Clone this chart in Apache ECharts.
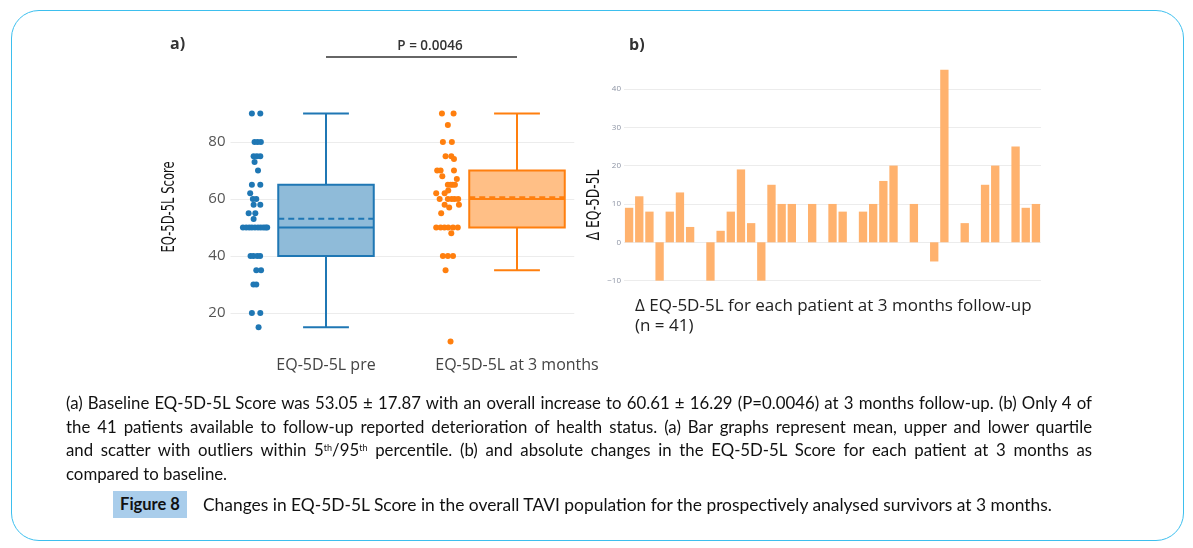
<!DOCTYPE html>
<html><head><meta charset="utf-8">
<script src="https://cdn.jsdelivr.net/npm/echarts@6/dist/echarts.min.js"></script>
<style>
html,body{margin:0;padding:0;background:#fff;}
#wrap{position:relative;width:1193px;height:548px;overflow:hidden;background:#fff;}
#frame{position:absolute;left:11px;top:10px;width:1173px;height:531px;border:1.5px solid #3dbfee;border-radius:28px;box-sizing:border-box;pointer-events:none;}
#chart{position:absolute;left:0;top:0;width:1193px;height:548px;}
#caption{position:absolute;left:66px;top:391px;width:1026px;font-family:Lato,'Open Sans',sans-serif;font-size:16.8px;line-height:23.5px;color:#111;}
#caption .j{text-align:justify;text-align-last:justify;}
#caption sup{font-size:9px;line-height:0;vertical-align:5px;}
#figbox{position:absolute;left:113px;top:491px;width:74px;height:27px;background:#a9cdeb;font-family:Lato,sans-serif;font-weight:bold;font-size:16.5px;line-height:27px;text-align:center;color:#111;}
#figtext{position:absolute;left:203px;top:491px;height:27px;line-height:27px;font-family:Lato,sans-serif;font-size:17.4px;color:#111;white-space:nowrap;}
</style></head>
<body>
<div id="wrap">
  <div id="chart"></div>
  <div id="caption">
    <div class="j">(a) Baseline EQ-5D-5L Score was 53.05 ± 17.87 with an overall increase to 60.61 ± 16.29 (P=0.0046) at 3 months follow-up. (b) Only 4 of</div>
    <div class="j">the 41 patients available to follow-up reported deterioration of health status. (a) Bar graphs represent mean, upper and lower quartile</div>
    <div class="j">and scatter with outliers within 5<sup>th</sup>/95<sup>th</sup> percentile. (b) and absolute changes in the EQ-5D-5L Score for each patient at 3 months as</div>
    <div>compared to baseline.</div>
  </div>
  <div id="figbox">Figure 8</div>
  <div id="figtext">Changes in EQ-5D-5L Score in the overall TAVI population for the prospectively analysed survivors at 3 months.</div>
  <div id="frame"></div>
</div>
<script>
// ---------- data ----------
const categories = ['EQ-5D-5L pre', 'EQ-5D-5L at 3 months'];
// [min, Q1, median, Q3, max]
const preStats = [15, 40, 50, 65, 90];
const postStats = [35, 50, 60, 70, 90];
const boxMeans = [53.05, 60.61];

const preScores = [90,90, 80,80,80, 75,75,75, 73, 70, 65,65, 62, 60,60, 58,58, 55,55, 53,
  50,50,50,50,50,50,50,50,50,50, 40,40,40,40, 35,35, 30,30, 20,20, 15];
const preJitter = [-0.028,0.016, -0.014,0.002,0.019, -0.019,-0.002,0.016, -0.014, 0.004, -0.028,0.016, -0.037, -0.023,-0.005, -0.019,0.016, -0.045,-0.010, -0.019,
  -0.075,-0.058,-0.042,-0.028,-0.012,0.004,0.018,0.032,0.044,0.052, -0.035,-0.02,0.0,0.015, -0.005,0.02, -0.02,-0.005, -0.028,0.016, 0.007];

const postScores = [90,90, 86, 80,80, 75,75, 74, 70,70,70, 68, 65,65,65, 62,62, 60,60,60, 58,58, 55,
  50,50,50,50,50,50, 48, 40,40,40, 35, 10, 60,60,65,57,67,63];
const postJitter = [-0.033,0.028, -0.002, -0.028,0.019, -0.014,0.016, 0.03, -0.058,-0.04,0.03, -0.031, -0.002,0.023,0.012, -0.063,-0.019, -0.045,-0.002,0.033, -0.019,0.056, -0.037,
  -0.063,-0.04,-0.02,0.0,0.025,0.05, 0.016, -0.028,-0.002,0.025, -0.014, 0.012, 0.018,0.052,0.035,0.005,0.045,0.0];

const leftTicks = [20, 40, 60, 80];
const patientIds = ['1','2','3','4','5','6','7','8','9','10','11','12','13','14','15','16','17','18','19','20','21',
  '22','23','24','25','26','27','28','29','30','31','32','33','34','35','36','37','38','39','40','41'];
const deltaValues = [9,12,8,-10,8,13,4,0,-10,3,8,19,5,-10,15,10,10,0,10,0,10,8,0,8,10,16,20,0,10,0,-5,45,0,5,0,15,20,0,25,9,10];
const rightTicks = [-10, 0, 10, 20, 30, 40];

// ---------- style ----------
const BOX_HALF = 0.25, CAP_HALF = 0.12, SCATTER_SHIFT = -0.36;
const BOX_COLORS = [
  {line: '#1f77b4', fill: '#8fbbd9'},
  {line: '#ff7f0e', fill: '#ffbf86'}
];
const GRID_C = '#ececec';

const chart = echarts.init(document.getElementById('chart'), null, {renderer: 'canvas'});

const boxData = [preStats, postStats].map((s, i) => [i + 1].concat(s, [boxMeans[i]]));
const preData = preScores.map((v, i) => [1 + SCATTER_SHIFT + preJitter[i], v]);
const postData = postScores.map((v, i) => [2 + SCATTER_SHIFT + postJitter[i], v]);

const option = {
  animation: false,
  grid: [
    {left: 230.5, top: 85, width: 343.8, height: 285},
    {left: 624, top: 50.55, width: 417, height: 230.1}
  ],
  xAxis: [
    {type: 'value', gridIndex: 0, min: 0.5, max: 2.3, interval: 0.5, offset: -21,
     axisLine: {show: false}, axisTick: {show: false}, splitLine: {show: false},
     axisLabel: {showMaxLabel: false, fontSize: 16, color: '#444', fontFamily: 'Open Sans',
       formatter: v => (Math.abs(v - 1) < 1e-6 ? categories[0] : (Math.abs(v - 2) < 1e-6 ? categories[1] : ''))}},
    {type: 'category', gridIndex: 1, data: patientIds, show: false}
  ],
  yAxis: [
    {type: 'value', gridIndex: 0, min: 0, max: 100, interval: 20,
     axisLine: {show: false}, axisTick: {show: false},
     axisLabel: {fontSize: 15, color: '#555', fontFamily: 'Open Sans', margin: 5,
       formatter: v => (leftTicks.indexOf(v) >= 0 ? String(v) : '')},
     splitLine: {lineStyle: {color: ['transparent', GRID_C, GRID_C, GRID_C, GRID_C, 'transparent'], width: 1}}},
    {type: 'value', gridIndex: 1, min: -10, max: 50, interval: 10,
     axisLine: {show: false}, axisTick: {show: false},
     axisLabel: {fontSize: 8, color: '#8c93a3', fontFamily: 'Open Sans', margin: 3,
       formatter: v => (rightTicks.indexOf(v) >= 0 ? (v < 0 ? '−' + Math.abs(v) : String(v)) : '')},
     splitLine: {lineStyle: {color: [GRID_C, GRID_C, GRID_C, GRID_C, GRID_C, GRID_C, 'transparent'], width: 1}}}
  ],
  series: [
    {type: 'custom', xAxisIndex: 0, yAxisIndex: 0, data: boxData, encode: {x: 0, y: [1, 2, 3, 4, 5, 6]},
     z: 2,
     renderItem: function (params, api) {
       const x = api.value(0);
       const c = BOX_COLORS[params.dataIndex];
       const pt = (dx, v) => api.coord([x + dx, v]);
       const mn = api.value(1), q1 = api.value(2), md = api.value(3), q3 = api.value(4), mx = api.value(5), mean = api.value(6);
       const ln = (a, b, dash) => ({type: 'line', shape: {x1: a[0], y1: a[1], x2: b[0], y2: b[1]},
         style: {stroke: c.line, lineWidth: 2, lineDash: dash || null}});
       const tl = pt(-BOX_HALF, q3), br = pt(BOX_HALF, q1);
       return {type: 'group', children: [
         ln(pt(0, q3), pt(0, mx)),
         ln(pt(0, q1), pt(0, mn)),
         ln(pt(-CAP_HALF, mx), pt(CAP_HALF, mx)),
         ln(pt(-CAP_HALF, mn), pt(CAP_HALF, mn)),
         {type: 'rect', shape: {x: tl[0], y: tl[1], width: br[0] - tl[0], height: br[1] - tl[1]},
          style: {fill: c.fill, stroke: c.line, lineWidth: 2}},
         ln(pt(-BOX_HALF, md), pt(BOX_HALF, md)),
         ln(pt(-BOX_HALF, mean), pt(BOX_HALF, mean), [6, 4])
       ]};
     }},
    {type: 'scatter', name: categories[0], xAxisIndex: 0, yAxisIndex: 0, data: preData, symbolSize: 6,
     itemStyle: {color: '#1f77b4', opacity: 1}},
    {type: 'scatter', name: categories[1], xAxisIndex: 0, yAxisIndex: 0, data: postData, symbolSize: 6,
     itemStyle: {color: '#ff7f0e', opacity: 1}},
    {type: 'bar', name: 'Δ EQ-5D-5L', xAxisIndex: 1, yAxisIndex: 1, data: deltaValues, barCategoryGap: '18%',
     itemStyle: {color: '#ffb26e'}}
  ]
};
chart.setOption(option);

const x1 = chart.convertToPixel({xAxisIndex: 0}, 1);
const x2 = chart.convertToPixel({xAxisIndex: 0}, 2);
chart.setOption({
  graphic: [
    {type: 'text', left: 170, top: 36, style: {text: 'a)', font: "bold 16px 'Open Sans'", fill: '#333'}},
    {type: 'text', left: 629, top: 37, style: {text: 'b)', font: "bold 16px 'Open Sans'", fill: '#333'}},
    {type: 'text', x: 430, y: 46, style: {text: 'P = 0.0046', font: "600 13.5px 'Open Sans'", fill: '#333', align: 'center', verticalAlign: 'middle'}},
    {type: 'line', shape: {x1: x1, y1: 57, x2: x2, y2: 57}, style: {stroke: '#333', lineWidth: 1.5}},
    {type: 'text', x: 170, y: 207, rotation: Math.PI / 2, scaleX: 0.68,
     style: {text: 'EQ-5D-5L Score', font: "17px 'DejaVu Sans'", fill: '#111', align: 'center', verticalAlign: 'middle'}},
    {type: 'text', x: 595, y: 205, rotation: Math.PI / 2, scaleX: 0.72,
     style: {text: 'Δ EQ-5D-5L', font: "17px 'DejaVu Sans'", fill: '#111', align: 'center', verticalAlign: 'middle'}},
    {type: 'text', x: 635, y: 306, style: {text: 'Δ EQ-5D-5L for each patient at 3 months follow-up', font: "17px 'Open Sans'", fill: '#222', verticalAlign: 'middle'}},
    {type: 'text', x: 635, y: 326, style: {text: '(n = 41)', font: "17px 'Open Sans'", fill: '#222', verticalAlign: 'middle'}}
  ]
});
</script>
</body></html>
